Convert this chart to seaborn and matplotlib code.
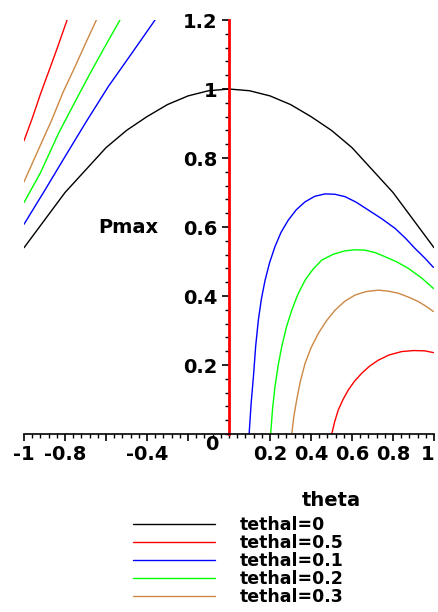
import matplotlib
matplotlib.use("Agg")
import matplotlib.pyplot as plt
import seaborn as sns
import pandas as pd
from matplotlib.ticker import MultipleLocator, FixedLocator

# Curves (theta, Pmax), one list per branch
black_theta = [-1.0, -0.9, -0.8, -0.7, -0.6, -0.5, -0.4, -0.3, -0.2, -0.1, 0.0,
               0.1, 0.2, 0.3, 0.4, 0.5, 0.6, 0.7, 0.8, 0.9, 1.0]
black_p = [0.54, 0.62, 0.70, 0.765, 0.83, 0.88, 0.92, 0.955, 0.98, 0.995, 1.0,
           0.995, 0.98, 0.955, 0.92, 0.88, 0.83, 0.765, 0.70, 0.62, 0.54]

red_left_theta = [-1.0, -0.96, -0.92, -0.88, -0.84, -0.79]
red_left_p = [0.85, 0.915, 0.985, 1.05, 1.115, 1.20]
red_right_theta = [0.501, 0.515, 0.533, 0.556, 0.582, 0.612, 0.647, 0.686,
                   0.728, 0.78, 0.842, 0.9, 0.956, 0.997]
red_right_p = [0.0, 0.035, 0.07, 0.1, 0.128, 0.153, 0.176, 0.197,
               0.214, 0.229, 0.239, 0.242, 0.241, 0.236]

blue_left_theta = [-1.0, -0.9, -0.8, -0.7, -0.589, -0.475, -0.361]
blue_left_p = [0.608, 0.705, 0.804, 0.902, 1.007, 1.103, 1.20]
blue_right_theta = [0.098, 0.108, 0.119, 0.13, 0.143, 0.158, 0.176, 0.198,
                    0.224, 0.254, 0.289, 0.328, 0.371, 0.418, 0.468, 0.516,
                    0.566, 0.62, 0.68, 0.745, 0.81, 0.86, 0.907, 0.955, 0.997]
blue_right_p = [0.0, 0.09, 0.166, 0.255, 0.33, 0.392, 0.446, 0.497,
                0.543, 0.585, 0.62, 0.65, 0.673, 0.689, 0.696, 0.695,
                0.688, 0.672, 0.649, 0.624, 0.596, 0.568, 0.538, 0.51, 0.483]

green_left_theta = [-1.0, -0.92, -0.832, -0.76, -0.686, -0.61, -0.532]
green_left_p = [0.671, 0.757, 0.871, 0.953, 1.036, 1.118, 1.20]
green_right_theta = [0.203, 0.212, 0.224, 0.24, 0.257, 0.28, 0.306, 0.336,
                     0.371, 0.41, 0.452, 0.508, 0.566, 0.615, 0.663, 0.712,
                     0.761, 0.818, 0.875, 0.94, 0.997]
green_right_p = [0.0, 0.07, 0.137, 0.2, 0.253, 0.31, 0.359, 0.405,
                 0.446, 0.478, 0.504, 0.521, 0.531, 0.534, 0.533, 0.526,
                 0.514, 0.499, 0.48, 0.452, 0.422]

orange_left_theta = [-1.0, -0.93, -0.865, -0.81, -0.751, -0.7, -0.647]
orange_left_p = [0.731, 0.824, 0.91, 0.99, 1.065, 1.132, 1.20]
orange_right_theta = [0.306, 0.316, 0.33, 0.348, 0.371, 0.4, 0.436, 0.475,
                      0.517, 0.565, 0.615, 0.67, 0.728, 0.778, 0.826, 0.875,
                      0.923, 0.962, 0.997]
orange_right_p = [0.0, 0.05, 0.099, 0.153, 0.205, 0.25, 0.292, 0.328,
                  0.359, 0.385, 0.403, 0.413, 0.417, 0.414, 0.408, 0.397,
                  0.384, 0.37, 0.355]

labels = ["tethal=0", "tethal=0.5", "tethal=0.1", "tethal=0.2", "tethal=0.3"]
colors = ["black", "red", "blue", "#00ff00", "#cc8844"]
branches = [
    [(black_theta, black_p)],
    [(red_left_theta, red_left_p), (red_right_theta, red_right_p)],
    [(blue_left_theta, blue_left_p), (blue_right_theta, blue_right_p)],
    [(green_left_theta, green_left_p), (green_right_theta, green_right_p)],
    [(orange_left_theta, orange_left_p), (orange_right_theta, orange_right_p)],
]

sns.set_style("white")
plt.rcParams['font.family'] = ['DejaVu Sans']
plt.rcParams['font.weight'] = 'bold'
plt.rcParams['text.color'] = 'black'

fig = plt.figure(figsize=(4.39, 6.12), dpi=100)
ax = fig.add_axes([0.0547, 0.2908, 0.934, 0.6765])

for lab, col, br in zip(labels, colors, branches):
    for i, (t, p) in enumerate(br):
        df = pd.DataFrame({"theta": t, "Pmax": p})
        sns.lineplot(data=df, x="theta", y="Pmax", sort=False, color=col,
                     linewidth=1.0, label=lab if i == 0 else None, ax=ax,
                     legend=False)

ax.set_xlim(-1, 1)
ax.set_ylim(0, 1.2)
ax.spines['left'].set_position(('data', 0))
ax.spines['bottom'].set_position(('data', 0))
ax.spines['top'].set_visible(False)
ax.spines['right'].set_visible(False)
ax.spines['left'].set_color('red')
ax.spines['left'].set_linewidth(2)
ax.spines['bottom'].set_color('black')
ax.spines['bottom'].set_linewidth(1.2)

xt = [-1, -0.8, -0.6, -0.4, -0.2, 0.2, 0.4, 0.6, 0.8, 1]
xl = ["-1", "-0.8", "", "-0.4", "", "0.2", "0.4", "0.6", "0.8", "1"]
ax.xaxis.set_major_locator(FixedLocator(xt))
ax.set_xticklabels(xl)
ax.xaxis.set_minor_locator(MultipleLocator(0.04))
yt = [0.2, 0.4, 0.6, 0.8, 1.0, 1.2]
ax.yaxis.set_major_locator(FixedLocator(yt))
ax.set_yticklabels(["0.2", "0.4", "0.6", "0.8", "1", "1.2"])
ax.yaxis.set_minor_locator(MultipleLocator(0.04))
ax.tick_params(which='major', direction='out', length=5, width=1.2,
               labelsize=14, pad=3, colors='black')
ax.tick_params(which='minor', direction='out', length=3, width=1.0,
               colors='black')
ax.tick_params(axis='y', which='both', left=True)
ax.tick_params(axis='x', which='both', bottom=True)
for lbl in ax.get_xticklabels() + ax.get_yticklabels():
    lbl.set_fontweight('bold')
# keep the last x label inside the canvas
ax.get_xticklabels()[-1].set_horizontalalignment('right')
ax.set_xlabel("")
ax.set_ylabel("")

ax.text(-0.05, -0.03, "0", ha='right', va='center', fontsize=14,
        fontweight='bold', color='black')
ax.text(-0.49, 0.6, "Pmax", ha='center', va='center', fontsize=14,
        fontweight='bold', color='black')
fig.text(0.754, 0.183, "theta", ha='center', va='center', fontsize=14,
         fontweight='bold', color='black')

handles, labs = ax.get_legend_handles_labels()
leg = fig.legend(handles, labs, loc='upper left', bbox_to_anchor=(0.304, 0.157),
                 frameon=False, prop={'size': 12.5, 'weight': 'bold'},
                 handlelength=4.7, handletextpad=1.45, labelspacing=0.0,
                 borderpad=0, borderaxespad=0)
for t in leg.get_texts():
    t.set_color('black')

fig.savefig("out.png", dpi=100)
